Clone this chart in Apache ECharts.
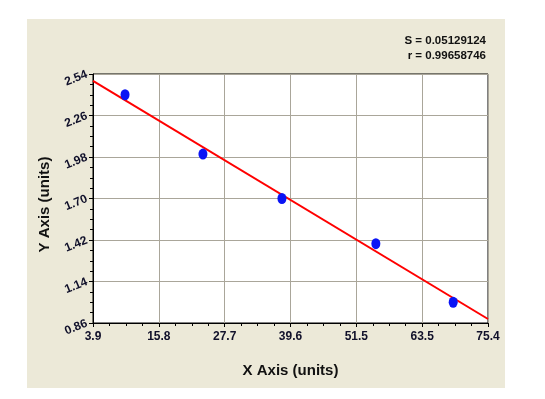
<!DOCTYPE html>
<html>
<head>
<meta charset="utf-8">
<script src="https://cdn.jsdelivr.net/npm/echarts@6/dist/echarts.min.js"></script>
<style>
  html, body { margin: 0; padding: 0; background: #ffffff; }
  #chart { width: 545px; height: 399px; }
</style>
</head>
<body>
<div id="chart"></div>
<script>
// tick labels
const xTicks = ["3.9", "15.8", "27.7", "39.6", "51.5", "63.5", "75.4"];
const yTicks = ["0.86", "1.14", "1.42", "1.70", "1.98", "2.26", "2.54"];

// measured points
const pointX = [9.7, 23.8, 38.1, 55.1, 69.1];
const pointY = [2.40, 2.00, 1.70, 1.395, 1.00];

// fitted line ends
const fitX = [3.9, 75.4];
const fitY = [2.493, 0.887];

const statLines = ["S = 0.05129124", "r = 0.99658746"];

const labelFont = "'Liberation Sans', Arial, sans-serif";
const gridColor = "#aaa69a";

let myChart = echarts.init(document.getElementById("chart"));

const option = {
  animation: false,
  backgroundColor: "#ffffff",
  graphic: [
    {
      type: "rect",
      z: -10,
      shape: { x: 27, y: 19, width: 478, height: 369 },
      style: { fill: "#ece9d8" },
    },
    {
      type: "text",
      x: 486,
      y: 41,
      style: {
        text: statLines[0],
        align: "right",
        verticalAlign: "middle",
        fill: "#111111",
        font: "bold 11.5px " + labelFont,
      },
    },
    {
      type: "text",
      x: 486,
      y: 56,
      style: {
        text: statLines[1],
        align: "right",
        verticalAlign: "middle",
        fill: "#111111",
        font: "bold 11.5px " + labelFont,
      },
    },
  ],
  grid: {
    left: 93,
    top: 74,
    width: 395,
    height: 249,
    show: true,
    backgroundColor: "#ffffff",
    borderColor: "#000000",
    borderWidth: 1,
    containLabel: false,
    outerBoundsMode: "none",
  },
  xAxis: [
    {
      // data axis
      type: "value",
      min: 3.9,
      max: 75.4,
      show: false,
    },
    {
      // label/grid axis
      type: "value",
      min: 0,
      max: xTicks.length - 1,
      interval: 1,
      position: "bottom",
      name: "X Axis (units)",
      nameLocation: "middle",
      nameGap: 40,
      nameTextStyle: {
        color: "#111111",
        fontSize: 15,
        fontWeight: "bold",
        fontFamily: labelFont,
      },
      axisLine: { show: true, onZero: false, lineStyle: { color: "#000000", width: 1 } },
      axisTick: { show: true, inside: false, length: 4, lineStyle: { color: "#000000" } },
      minorTick: { show: true, splitNumber: 4, length: 3, lineStyle: { color: "#000000" } },
      splitLine: { show: true, lineStyle: { color: gridColor, width: 1 } },
      axisLabel: {
        show: true,
        margin: 8,
        color: "#10102a",
        fontSize: 12,
        fontWeight: "bold",
        fontFamily: labelFont,
        showMinLabel: true,
        showMaxLabel: true,
        hideOverlap: false,
        formatter: (v) => xTicks[Math.round(v)],
      },
    },
  ],
  yAxis: [
    {
      type: "value",
      min: 0.86,
      max: 2.54,
      show: false,
    },
    {
      type: "value",
      min: 0,
      max: yTicks.length - 1,
      interval: 1,
      position: "left",
      name: "Y Axis (units)",
      nameLocation: "middle",
      nameGap: 40,
      nameRotate: 90,
      nameTextStyle: {
        color: "#111111",
        fontSize: 15,
        fontWeight: "bold",
        fontFamily: labelFont,
        padding: [0, 12, 0, 0],
      },
      axisLine: { show: true, onZero: false, lineStyle: { color: "#000000", width: 1 } },
      axisTick: { show: true, inside: false, length: 4, lineStyle: { color: "#000000" } },
      minorTick: { show: true, splitNumber: 4, length: 3, lineStyle: { color: "#000000" } },
      splitLine: { show: true, lineStyle: { color: gridColor, width: 1 } },
      axisLabel: {
        show: true,
        margin: 6,
        rotate: 22,
        color: "#10102a",
        fontSize: 12,
        fontWeight: "bold",
        fontFamily: labelFont,
        showMinLabel: true,
        showMaxLabel: true,
        hideOverlap: false,
        formatter: (v) => yTicks[Math.round(v)],
      },
    },
  ],
  series: [
    {
      name: "fit",
      type: "line",
      xAxisIndex: 0,
      yAxisIndex: 0,
      data: fitX.map((x, i) => [x, fitY[i]]),
      showSymbol: false,
      symbol: "none",
      lineStyle: { color: "#ff0000", width: 2 },
      z: 3,
    },
    {
      name: "points",
      type: "scatter",
      xAxisIndex: 0,
      yAxisIndex: 0,
      data: pointX.map((x, i) => [x, pointY[i]]),
      symbol: "circle",
      symbolSize: [9, 11],
      itemStyle: { color: "#0a14f5", opacity: 1 },
      z: 4,
    },
  ],
};

myChart.setOption(option);
</script>
</body>
</html>
